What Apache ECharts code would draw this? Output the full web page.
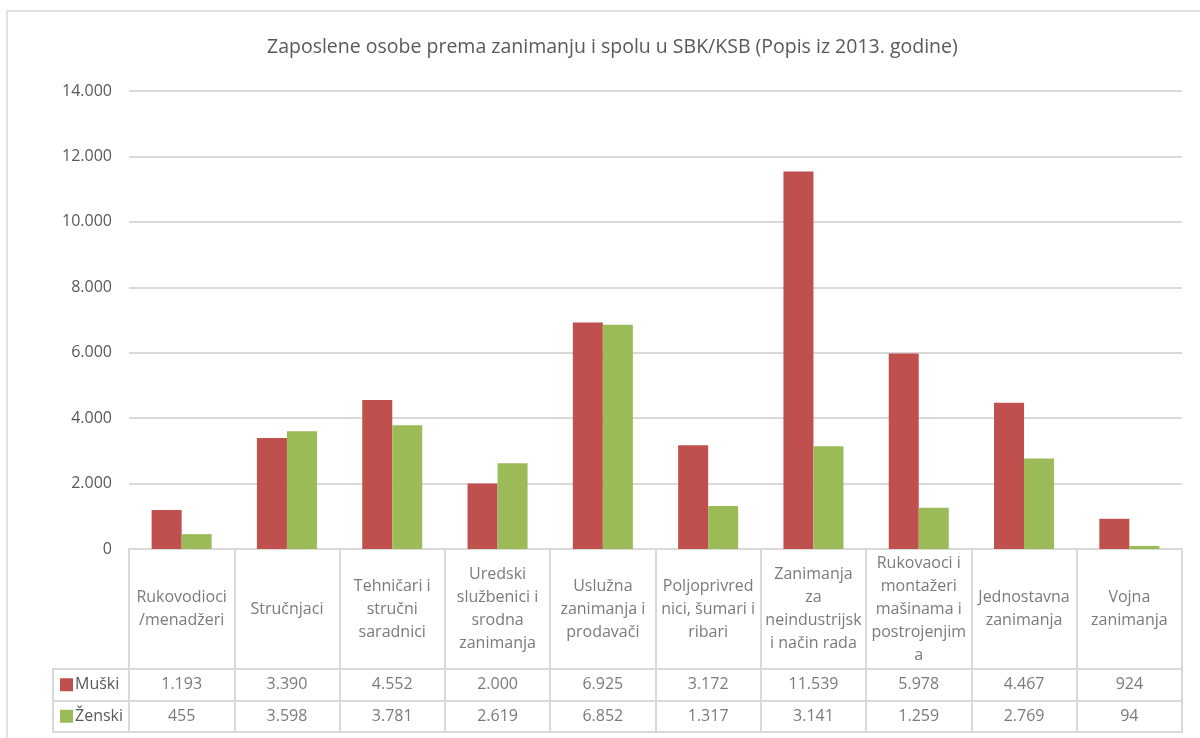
<!doctype html>
<html>
<head>
    <meta charset="utf-8">
    <title>Zaposlene osobe</title>
    <script src="https://cdn.jsdelivr.net/npm/echarts@6/dist/echarts.min.js"></script>
</head>
<style>
    html, body { margin: 0; padding: 0; background: #fff; }
    #chart { width: 1200px; height: 738px; }
</style>
<body>
<div id="chart"></div>
<script>
  // data
  var categories = [
    'Rukovodioci\n/menadžeri',
    'Stručnjaci',
    'Tehničari i\nstručni\nsaradnici',
    'Uredski\nslužbenici i\nsrodna\nzanimanja',
    'Uslužna\nzanimanja i\nprodavači',
    'Poljoprivred\nnici, šumari i\nribari',
    'Zanimanja\nza\nneindustrijsk\ni način rada',
    'Rukovaoci i\nmontažeri\nmašinama i\npostrojenjim\na',
    'Jednostavna\nzanimanja',
    'Vojna\nzanimanja'
  ];
  var seriesNames = ['Muški', 'Ženski'];
  var muski = [1193, 3390, 4552, 2000, 6925, 3172, 11539, 5978, 4467, 924];
  var zenski = [455, 3598, 3781, 2619, 6852, 1317, 3141, 1259, 2769, 94];
  var yTicks = { min: 0, max: 14000, interval: 2000 };

  var colors = ['#c0504d', '#9bbb59'];
  var txt = '#595959';
  var line = '#d9d9d9';
  var font = 'Open Sans';
  var fs = 16;

  function fmt(v) {
    return String(v).replace(/\B(?=(\d{3})+(?!\d))/g, '.');
  }

  var catCells = categories.map(function (c, i) { return [i, 0.5]; });
  var valueCells = [];
  [muski, zenski].forEach(function (arr, s) {
    arr.forEach(function (v, i) { valueCells.push([i, s, v]); });
  });

  var chart = echarts.init(document.getElementById('chart'));
  var option = {
    backgroundColor: '#fff',
    textStyle: { fontFamily: font },
    title: {
      text: 'Zaposlene osobe prema zanimanju i spolu u SBK/KSB (Popis iz 2013. godine)',
      left: 262,
      top: 32,
      textStyle: { fontFamily: font, fontSize: 19.5, fontWeight: 'normal', color: txt }
    },
    grid: [
      { left: 129, right: 18, top: 91, height: 458 },
      { left: 129, right: 18, top: 549, height: 120, show: true, borderColor: line, borderWidth: 2 },
      { left: 129, right: 18, top: 669, height: 63, show: true, borderColor: line, borderWidth: 2 }
    ],
    xAxis: [
      {
        gridIndex: 0, type: 'category', data: categories,
        axisLine: { lineStyle: { color: line, width: 2 } },
        axisTick: { show: false }, axisLabel: { show: false }
      },
      {
        gridIndex: 1, type: 'category', data: categories,
        axisLine: { show: false }, axisTick: { show: false }, axisLabel: { show: false },
        splitLine: { show: true, interval: 0, lineStyle: { color: line, width: 2 } }
      },
      {
        gridIndex: 2, type: 'category', data: categories,
        axisLine: { show: false }, axisTick: { show: false }, axisLabel: { show: false },
        splitLine: { show: true, interval: 0, lineStyle: { color: line, width: 2 } }
      }
    ],
    yAxis: [
      {
        gridIndex: 0, type: 'value', min: yTicks.min, max: yTicks.max, interval: yTicks.interval,
        axisLine: { show: false }, axisTick: { show: false },
        axisLabel: { formatter: fmt, color: txt, fontSize: fs, margin: 17, fontFamily: font },
        splitLine: { lineStyle: { color: line, width: 2 } }
      },
      {
        gridIndex: 1, type: 'value', min: 0, max: 1, show: false
      },
      {
        gridIndex: 2, type: 'category', data: seriesNames, inverse: true,
        axisLine: { show: false },
        axisTick: { show: true, length: 76, interval: 0, lineStyle: { color: line, width: 2 } },
        splitLine: { show: true, interval: 0, lineStyle: { color: line, width: 2 } },
        axisLabel: {
          align: 'left', margin: 69, color: txt, fontSize: fs, fontFamily: font,
          formatter: function (v, i) { return '{s' + i + '|}{t|' + v + '}'; },
          rich: {
            s0: { width: 13, height: 13, backgroundColor: colors[0] },
            s1: { width: 13, height: 13, backgroundColor: colors[1] },
            t: { color: txt, fontSize: fs, fontFamily: font, padding: [0, 0, 0, 2] }
          }
        }
      }
    ],
    series: [
      {
        name: seriesNames[0], type: 'bar', xAxisIndex: 0, yAxisIndex: 0,
        data: muski, barGap: 0, barCategoryGap: '43%',
        itemStyle: { color: colors[0] }
      },
      {
        name: seriesNames[1], type: 'bar', xAxisIndex: 0, yAxisIndex: 0,
        data: zenski, barGap: 0, barCategoryGap: '43%',
        itemStyle: { color: colors[1] }
      },
      {
        type: 'scatter', xAxisIndex: 1, yAxisIndex: 1, symbolSize: 0,
        data: catCells, silent: true,
        label: {
          show: true, position: 'inside', color: txt, fontSize: fs, lineHeight: 23,
          fontFamily: font, align: 'center', verticalAlign: 'middle',
          formatter: function (p) { return categories[p.dataIndex]; }
        }
      },
      {
        type: 'scatter', xAxisIndex: 2, yAxisIndex: 2, symbolSize: 0,
        data: valueCells, silent: true,
        label: {
          show: true, position: 'inside', color: txt, fontSize: fs,
          fontFamily: font, align: 'center', verticalAlign: 'middle',
          formatter: function (p) { return fmt(p.value[2]); }
        }
      }
    ],
    graphic: [
      {
        type: 'rect', z: -1, silent: true,
        shape: { x: 7, y: 11, width: 1250, height: 800 },
        style: { fill: null, stroke: line, lineWidth: 1.5 }
      },
      {
        type: 'line', silent: true,
        shape: { x1: 53, y1: 668, x2: 53, y2: 733 },
        style: { stroke: line, lineWidth: 2 }
      }
    ]
  };
  chart.setOption(option);
</script>
</body>
</html>
